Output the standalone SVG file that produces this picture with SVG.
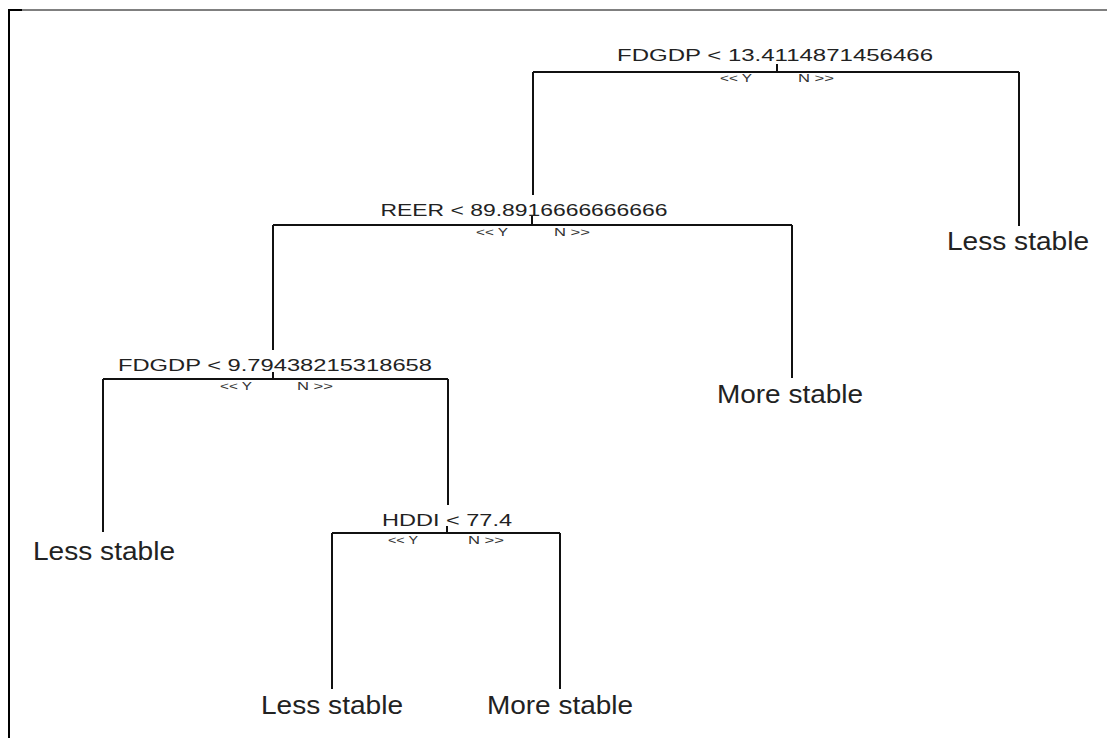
<svg xmlns="http://www.w3.org/2000/svg" width="1107" height="738" viewBox="0 0 1107 738">
<style>
.cond{font-family:"Liberation Sans",Arial,sans-serif;font-size:17px;fill:#222;text-anchor:middle}
.yn{font-family:"Liberation Sans",Arial,sans-serif;font-size:10px;fill:#333;text-anchor:middle}
.leaf{font-family:"Liberation Sans",Arial,sans-serif;font-size:25px;fill:#222;text-anchor:middle}
.ln{stroke:#111;stroke-width:2;fill:none}
</style>
<rect x="0" y="0" width="1107" height="738" fill="#fff"/>
<g id="frame">
<line x1="8" y1="10" x2="1107" y2="10" stroke="#000" stroke-width="1"/>
<line x1="8" y1="10" x2="22" y2="10" stroke="#000" stroke-width="2"/>
<line x1="9" y1="9" x2="9" y2="738" stroke="#000" stroke-width="2"/>
</g>
<g id="connectors" class="ln">
<path d="M777 64V72M533 72H1019M533 72V195M1019 72V226"/>
<path d="M532 216V225M273 225H792M273 225V350M792 225V378"/>
<path d="M273 372V379M103 379H448M103 379V532M448 379V505"/>
<path d="M447 526V533M332 533H560M332 533V689M560 533V689"/>
</g>
<g id="n1">
<text class="cond" x="775" y="61" textLength="316" lengthAdjust="spacingAndGlyphs">FDGDP &lt; 13.4114871456466</text>
<text class="yn" x="736" y="82" textLength="32" lengthAdjust="spacingAndGlyphs">&lt;&lt; Y</text>
<text class="yn" x="816" y="82" textLength="36" lengthAdjust="spacingAndGlyphs">N &gt;&gt;</text>
</g>
<g id="n2">
<text class="cond" x="524" y="216" textLength="287" lengthAdjust="spacingAndGlyphs">REER &lt; 89.8916666666666</text>
<text class="yn" x="492" y="236" textLength="32" lengthAdjust="spacingAndGlyphs">&lt;&lt; Y</text>
<text class="yn" x="572" y="236" textLength="36" lengthAdjust="spacingAndGlyphs">N &gt;&gt;</text>
</g>
<g id="n3">
<text class="leaf" x="1018" y="250" textLength="142" lengthAdjust="spacingAndGlyphs">Less stable</text>
</g>
<g id="n4">
<text class="cond" x="275" y="371" textLength="314" lengthAdjust="spacingAndGlyphs">FDGDP &lt; 9.79438215318658</text>
<text class="yn" x="236" y="390" textLength="32" lengthAdjust="spacingAndGlyphs">&lt;&lt; Y</text>
<text class="yn" x="315" y="390" textLength="36" lengthAdjust="spacingAndGlyphs">N &gt;&gt;</text>
</g>
<g id="n5">
<text class="leaf" x="790" y="403" textLength="146" lengthAdjust="spacingAndGlyphs">More stable</text>
</g>
<g id="n6">
<text class="leaf" x="104" y="560" textLength="142" lengthAdjust="spacingAndGlyphs">Less stable</text>
</g>
<g id="n7">
<text class="cond" x="447" y="526" textLength="130" lengthAdjust="spacingAndGlyphs">HDDI &lt; 77.4</text>
<text class="yn" x="403" y="544" textLength="30" lengthAdjust="spacingAndGlyphs">&lt;&lt; Y</text>
<text class="yn" x="486" y="544" textLength="36" lengthAdjust="spacingAndGlyphs">N &gt;&gt;</text>
</g>
<g id="n8">
<text class="leaf" x="332" y="714" textLength="142" lengthAdjust="spacingAndGlyphs">Less stable</text>
</g>
<g id="n9">
<text class="leaf" x="560" y="714" textLength="146" lengthAdjust="spacingAndGlyphs">More stable</text>
</g>
</svg>
